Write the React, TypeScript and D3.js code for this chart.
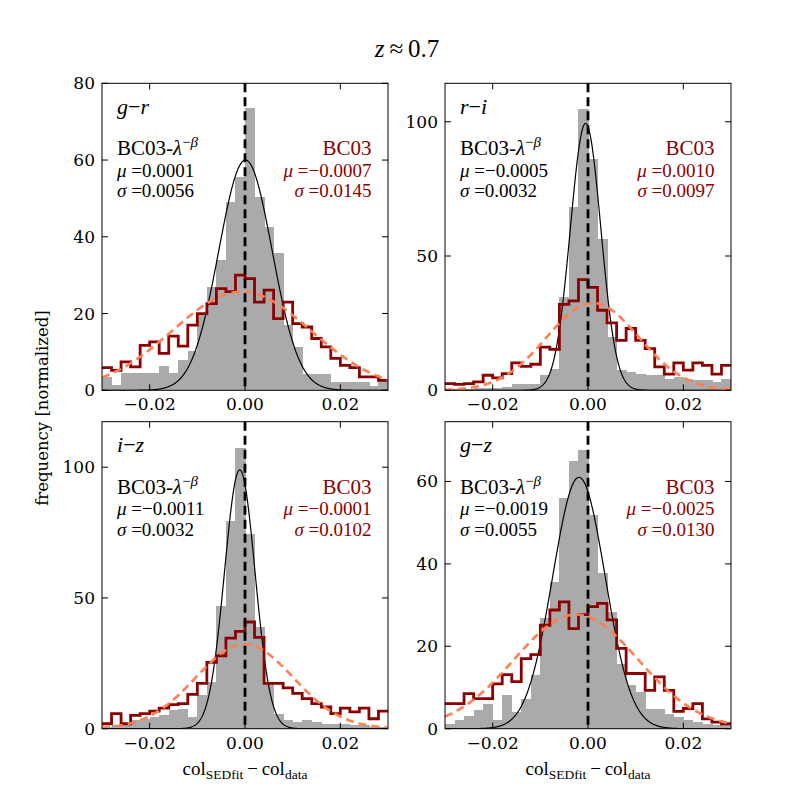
import React from "react";
import * as d3 from "d3";

// ---------- data ----------
const BIN_MIN = -0.03;
const BIN_MAX = 0.03;
const N_BINS = 30;

const colourNames = [
  ["g", "r"],
  ["r", "i"],
  ["i", "z"],
  ["g", "z"],
];

// gray histograms (BC03-lambda^-beta)
const grayGR = [3.5, 1.3, 4.5, 4.5, 4.5, 4.5, 6.3, 4.5, 7.8, 10.3, 20, 27, 34, 49, 55.7, 73.5, 50.4, 42.6, 35.7, 17, 11.3, 4.3, 4.3, 4.3, 2.2, 2.2, 2.2, 2.2, 1, 2.6];
const grayRI = [0.5, 0.5, 0.5, 0.8, 1, 1, 1.2, 2.2, 2.5, 2.5, 5.6, 8, 34.8, 68.3, 104.6, 86.3, 56.5, 19.9, 7.5, 6.8, 6.2, 5.6, 5.6, 4.3, 5, 4.3, 3.7, 3.7, 3.1, 4.3];
const grayIZ = [0.6, 1.3, 1.9, 3.2, 3.8, 4.5, 5.1, 7, 7.7, 4.5, 13, 18, 46.8, 79.5, 107.3, 74.4, 39, 18, 5.8, 3.2, 2.6, 3.2, 2.6, 1.9, 1.9, 1.9, 1.3, 1.3, 0.6, 0.6];
const grayGZ = [1.2, 2, 3.2, 4.5, 6.1, 2, 8.1, 4, 7.3, 13, 26.8, 35.7, 56, 64.9, 67.7, 51.9, 37.7, 28.4, 15.8, 10.5, 8.9, 4.9, 4.9, 3.6, 2.8, 2, 1.6, 1.2, 0.8, 1];

// dark red step histograms (BC03)
const redGR = [5.9, 5.2, 7.4, 6.1, 11.7, 12.6, 9.6, 14.1, 11.5, 17, 20, 22.6, 26.5, 25.7, 30, 29.1, 23, 26.1, 18.7, 23, 17.4, 16.5, 13.5, 11.3, 8.3, 6.5, 5.9, 3.5, 3.5, 2.6];
const redRI = [2.5, 2.2, 2.5, 3.1, 5.6, 4.6, 6.2, 10.2, 8.9, 9.7, 16.1, 15.2, 32, 33.3, 41.2, 38.3, 29.8, 25.1, 18.6, 23, 18.6, 15.5, 8.7, 6, 10.2, 7.5, 10.2, 9.3, 6, 9.3];
const redIZ = [1.9, 5.8, 1.9, 5.1, 5.8, 6.7, 7.9, 9.2, 9.6, 13.1, 17.3, 25.4, 27.9, 34.6, 37.2, 40.8, 34.9, 17.3, 17.3, 15.6, 13.5, 11.5, 9.6, 8.3, 5.8, 7.9, 6.4, 7.9, 3.8, 6.7];
const redGZ = [6.1, 6.1, 8.5, 7.3, 7.3, 10.9, 13.1, 11.4, 17, 18, 25.1, 28.8, 30.8, 24.3, 27.7, 29.6, 30.4, 26.4, 19.5, 13.4, 13.4, 9.3, 12.6, 9.3, 4.2, 4.9, 6.1, 2.4, 1.6, 1.2];

const grayHists = [grayGR, grayRI, grayIZ, grayGZ];
const redHists = [redGR, redRI, redIZ, redGZ];

const yMaxes = [80, 114.3, 117.4, 74.5];
const yTickSets = [
  [0, 20, 40, 60, 80],
  [0, 50, 100],
  [0, 50, 100],
  [0, 20, 40, 60],
];
const xTicks = [-0.02, 0, 0.02];
const xTickLabels = ["\u22120.02", "0.00", "0.02"];

// Gaussian fits
const lamMu = [0.0001, -0.0005, -0.0011, -0.0019];
const lamSigma = [0.0056, 0.0032, 0.0032, 0.0055];
const lamPeak = [60, 99.4, 99, 61];
const bcMu = [-0.0007, 0.001, -0.0001, -0.0025];
const bcSigma = [0.0145, 0.0097, 0.0102, 0.013];
const bcPeak = [25.7, 32.5, 32.3, 27.7];

// ---------- layout ----------
const COLS = [
  [102, 388],
  [445, 731],
];
const ROWS = [
  [83.3, 390.3],
  [421.7, 728.7],
];

const DARKRED = "#8b0000";
const GRAY = "#aaaaaa";
const CORAL = "#ff7f50";
const MATH = "'Liberation Serif', 'Times New Roman', serif";
const TICKF = "'DejaVu Serif', serif";

function fmt(v: number) {
  return (v < 0 ? "\u2212" : "") + Math.abs(v).toFixed(4);
}

function Panel({ i }: { i: number }) {
  const [x0, x1] = COLS[i % 2];
  const [y0, y1] = ROWS[Math.floor(i / 2)];
  const x = d3.scaleLinear().domain([BIN_MIN, BIN_MAX]).range([x0, x1]);
  const y = d3.scaleLinear().domain([0, yMaxes[i]]).range([y1, y0]);
  const binW = (BIN_MAX - BIN_MIN) / N_BINS;
  const edges = d3.range(N_BINS + 1).map((k) => BIN_MIN + k * binW);
  const gray = grayHists[i];
  const red = redHists[i];

  const stepPts: [number, number][] = red.map((v, k) => [edges[k], v] as [number, number]);
  stepPts.push([edges[N_BINS], red[N_BINS - 1]]);
  const stepLine = d3
    .line<[number, number]>()
    .x((d) => x(d[0]))
    .y((d) => y(d[1]))
    .curve(d3.curveStepAfter);

  const xs = d3.range(0, 601).map((k) => BIN_MIN + (k * (BIN_MAX - BIN_MIN)) / 600);
  const gauss = (mu: number, s: number, a: number) =>
    xs.map((v) => [v, a * Math.exp(-0.5 * ((v - mu) / s) ** 2)] as [number, number]);
  const line = d3
    .line<[number, number]>()
    .x((d) => x(d[0]))
    .y((d) => y(d[1]));

  const clipId = `clip${i}`;
  const [c1, c2] = colourNames[i];
  const tickLen = 6;

  return (
    <g>
      <defs>
        <clipPath id={clipId}>
          <rect x={x0} y={y0} width={x1 - x0} height={y1 - y0} />
        </clipPath>
      </defs>
      <g clipPath={`url(#${clipId})`}>
        <g shapeRendering="crispEdges">
          {gray.map((v, k) => (
            <rect
              key={k}
              x={x(edges[k])}
              y={y(v)}
              width={x(edges[k + 1]) - x(edges[k]) + 0.6}
              height={y1 - y(v)}
              fill={GRAY}
            />
          ))}
        </g>
        <path d={line(gauss(lamMu[i], lamSigma[i], lamPeak[i])) || ""} fill="none" stroke="#000" strokeWidth={1.2} />
        <path d={stepLine(stepPts) || ""} fill="none" stroke={DARKRED} strokeWidth={2.8} />
        <path
          d={line(gauss(bcMu[i], bcSigma[i], bcPeak[i])) || ""}
          fill="none"
          stroke={CORAL}
          strokeWidth={2.6}
          strokeDasharray="8,5"
        />
        <line x1={x(0)} x2={x(0)} y1={y0} y2={y1} stroke="#000" strokeWidth={2.8} strokeDasharray="9,5" />
      </g>
      {/* frame */}
      <rect x={x0} y={y0} width={x1 - x0} height={y1 - y0} fill="none" stroke="#000" strokeWidth={1} />
      {/* x ticks */}
      {xTicks.map((t, k) => (
        <g key={"xt" + k}>
          <line x1={x(t)} x2={x(t)} y1={y1} y2={y1 - tickLen} stroke="#000" strokeWidth={1} />
          <line x1={x(t)} x2={x(t)} y1={y0} y2={y0 + tickLen} stroke="#000" strokeWidth={1} />
          <text x={x(t)} y={y1 + 20} textAnchor="middle" fontFamily={TICKF} fontSize={17}>
            {xTickLabels[k]}
          </text>
        </g>
      ))}
      {/* y ticks */}
      {yTickSets[i].map((t) => (
        <g key={"yt" + t}>
          <line x1={x0} x2={x0 + tickLen} y1={y(t)} y2={y(t)} stroke="#000" strokeWidth={1} />
          <line x1={x1} x2={x1 - tickLen} y1={y(t)} y2={y(t)} stroke="#000" strokeWidth={1} />
          <text x={x0 - 7} y={y(t) + 6} textAnchor="end" fontFamily={TICKF} fontSize={17}>
            {t}
          </text>
        </g>
      ))}
      {/* panel label */}
      <text x={x0 + 15} y={y0 + 30.5} fontFamily={MATH} fontSize={22}>
        <tspan fontStyle="italic">{c1}</tspan>
        <tspan>{"\u2212"}</tspan>
        <tspan fontStyle="italic">{c2}</tspan>
      </text>
      {/* left legend text */}
      <text x={x0 + 15} y={y0 + 72} fontFamily={MATH} fontSize={21}>
        <tspan>BC03-</tspan>
        <tspan fontStyle="italic">{"\u03bb"}</tspan>
        <tspan dy={-8} fontSize={15}>{"\u2212"}</tspan>
        <tspan fontSize={15} fontStyle="italic">{"\u03b2"}</tspan>
      </text>
      <text x={x0 + 15} y={y0 + 93.5} fontFamily={MATH} fontSize={19}>
        <tspan fontStyle="italic">{"\u03bc"}</tspan>
        <tspan>{" =" + fmt(lamMu[i])}</tspan>
      </text>
      <text x={x0 + 15} y={y0 + 114} fontFamily={MATH} fontSize={19}>
        <tspan fontStyle="italic">{"\u03c3"}</tspan>
        <tspan>{" =" + fmt(lamSigma[i])}</tspan>
      </text>
      {/* right legend text */}
      <text x={x1 - 16.5} y={y0 + 72} fontFamily={MATH} fontSize={21} textAnchor="end" fill={DARKRED}>
        BC03
      </text>
      <text x={x1 - 16.5} y={y0 + 93.5} fontFamily={MATH} fontSize={19} textAnchor="end" fill={DARKRED}>
        <tspan fontStyle="italic">{"\u03bc"}</tspan>
        <tspan>{" =" + fmt(bcMu[i])}</tspan>
      </text>
      <text x={x1 - 16.5} y={y0 + 114} fontFamily={MATH} fontSize={19} textAnchor="end" fill={DARKRED}>
        <tspan fontStyle="italic">{"\u03c3"}</tspan>
        <tspan>{" =" + fmt(bcSigma[i])}</tspan>
      </text>
    </g>
  );
}

function XLabel({ cx }: { cx: number }) {
  return (
    <text x={cx} y={775} textAnchor="middle" fontFamily={MATH} fontSize={19}>
      <tspan>col</tspan>
      <tspan dy={4} fontSize={13.5}>SEDfit</tspan>
      <tspan dy={-4}>{"\u2009\u2212\u2009"}</tspan>
      <tspan>col</tspan>
      <tspan dy={4} fontSize={13.5}>data</tspan>
    </text>
  );
}

export default function App() {
  return (
    <svg width={812} height={812} style={{ position: "absolute", left: 0, top: 0, background: "#fff" }}>
      <rect x={0} y={0} width={812} height={812} fill="#fff" />
      <text x={407} y={57} textAnchor="middle" fontFamily={MATH} fontSize={25}>
        <tspan fontStyle="italic">z</tspan>
        <tspan>{"\u2009\u2248\u2009"}0.7</tspan>
      </text>
      <text
        transform="translate(48,408) rotate(-90)"
        textAnchor="middle"
        fontFamily={TICKF}
        fontSize={16.5}
      >
        frequency [normalized]
      </text>
      {[0, 1, 2, 3].map((i) => (
        <Panel key={i} i={i} />
      ))}
      <XLabel cx={245} />
      <XLabel cx={588} />
    </svg>
  );
}
